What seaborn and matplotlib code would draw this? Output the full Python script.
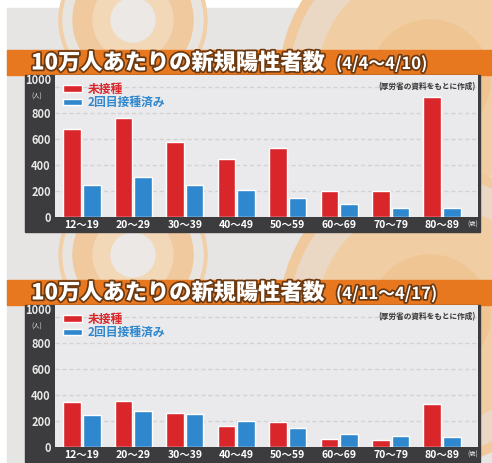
import pandas as pd
import seaborn as sns
import matplotlib.pyplot as plt
from matplotlib.patches import Rectangle, Circle
import matplotlib.patheffects as pe

sns.set_style('white')
plt.rcParams['font.family'] = ['Noto Sans CJK JP', 'DejaVu Sans']

# data (per 100k people)
ages = ['12〜19', '20〜29', '30〜39', '40〜49', '50〜59', '60〜69', '70〜79', '80〜89']
groups = ['未接種', '2回目接種済み']
week1_unvax = [681, 766, 578, 447, 535, 203, 200, 928]
week1_vax2 = [247, 306, 249, 206, 147, 98, 67, 69]
week2_unvax = [344, 352, 260, 162, 190, 64, 54, 332]
week2_vax2 = [249, 278, 257, 203, 149, 103, 85, 80]
titles = ['(4/4〜4/10)', '(4/11〜4/17)']
yticks = [0, 200, 400, 600, 800, 1000]

RED = '#d9262b'
BLUE = '#2f87cd'
ORANGE = '#e8781f'
DARK = '#3c3c3e'
PLOT_BG = '#eaeaec'
W, H = 492, 463

fig = plt.figure(figsize=(W / 100, H / 100), dpi=100)


def box(x0, y0, x1, y1):
    # pixel box (top-left origin) -> figure coords
    return [x0 / W, 1 - y1 / H, (x1 - x0) / W, (y1 - y0) / H]


# background with the orange circle decoration
bg = fig.add_axes([0, 0, 1, 1])
bg.set_xlim(0, W)
bg.set_ylim(H, 0)
bg.axis('off')
bg.add_patch(Rectangle((7, 8), W - 7, H - 8, color='#e6e5e4', zorder=0))
for cy in [20, 255]:
    for r, c in [(74, '#f1cfa8'), (70, '#e8e4e0'), (60, '#f0c99e'), (40, '#f3d8b8'), (22, '#ebe8e6')]:
        bg.add_patch(Circle((133, cy), r, color=c, zorder=1))
    for r, c in [(150, '#f0c99c'), (140, '#ead8c4'), (112, '#f1cda3'), (60, '#efc593')]:
        bg.add_patch(Circle((430, cy + 60), r, color=c, zorder=1))

panels = [
    (50, week1_unvax, week1_vax2, titles[0]),
    (280, week2_unvax, week2_vax2, titles[1]),
]

for top, unvax, vax2, sub in panels:
    # orange title band
    bg.add_patch(Rectangle((7, top), W - 7, 25, color=ORANGE, zorder=2))
    stroke = [pe.withStroke(linewidth=2.5, foreground='#6b3a12')]
    bg.text(31, top + 13, '10万人あたりの新規陽性者数', color='white', fontsize=16,
            fontweight='heavy', va='center', ha='left', zorder=3, path_effects=stroke)
    bg.text(336, top + 14, sub, color='white', fontsize=12, fontweight='bold',
            va='center', ha='left', zorder=3, path_effects=stroke)
    # dark frame for the axis labels
    bg.add_patch(Rectangle((25, top + 25), 455, 157, color=DARK, zorder=2))

    df = pd.DataFrame({
        'age': ages * 2,
        'value': unvax + vax2,
        'group': [groups[0]] * len(ages) + [groups[1]] * len(ages),
    })

    ax = fig.add_axes(box(55, top + 25, 478, top + 167))
    ax.set_facecolor(PLOT_BG)
    ax.set_zorder(5)
    sns.barplot(data=df, x='age', y='value', hue='group', palette=[RED, BLUE],
                width=0.76, gap=0.1, ax=ax, saturation=1)
    ax.set_xlim(-0.525, 7.7)
    ax.set_ylim(0, 1095)
    for y in yticks[1:]:
        ax.axhline(y, color='#d2d2d4', lw=1, ls=(0, (3, 2)), zorder=0)
    ax.set_yticks(yticks)
    ax.set_yticklabels([str(v) for v in yticks])
    ax.tick_params(axis='y', length=0, pad=3, labelsize=8, labelcolor='#e8e8e8')
    ax.tick_params(axis='x', length=0, pad=2.5, labelsize=7.5, labelcolor='white')
    for t in ax.get_yticklabels() + ax.get_xticklabels():
        t.set_fontweight('bold')
    ax.get_yticklabels()[-1].set_va('bottom')
    ax.set_xlabel('')
    ax.set_ylabel('')
    for s in ax.spines.values():
        s.set_visible(False)
    ax.text(-0.03, 0.85, '(人)', transform=ax.transAxes, ha='right', va='center',
            fontsize=4.5, color='#e8e8e8')
    ax.text(1.0, -0.055, '(歳)', transform=ax.transAxes, ha='right', va='center',
            fontsize=4.5, color='#e8e8e8')
    ax.text(0.995, 0.915, '(厚労省の資料をもとに作成)', transform=ax.transAxes,
            ha='right', va='center', fontsize=5.5, fontweight='bold', color='#333333')

    leg = ax.legend(loc='upper left', bbox_to_anchor=(0.0, 1.0), frameon=False,
                    fontsize=8.5, handlelength=1.6, handleheight=0.5,
                    handletextpad=0.5, labelspacing=0.05, borderaxespad=0.25)
    for t, c in zip(leg.get_texts(), [RED, BLUE]):
        t.set_color(c)
        t.set_fontweight('bold')

fig.savefig('out.png', dpi=100)
